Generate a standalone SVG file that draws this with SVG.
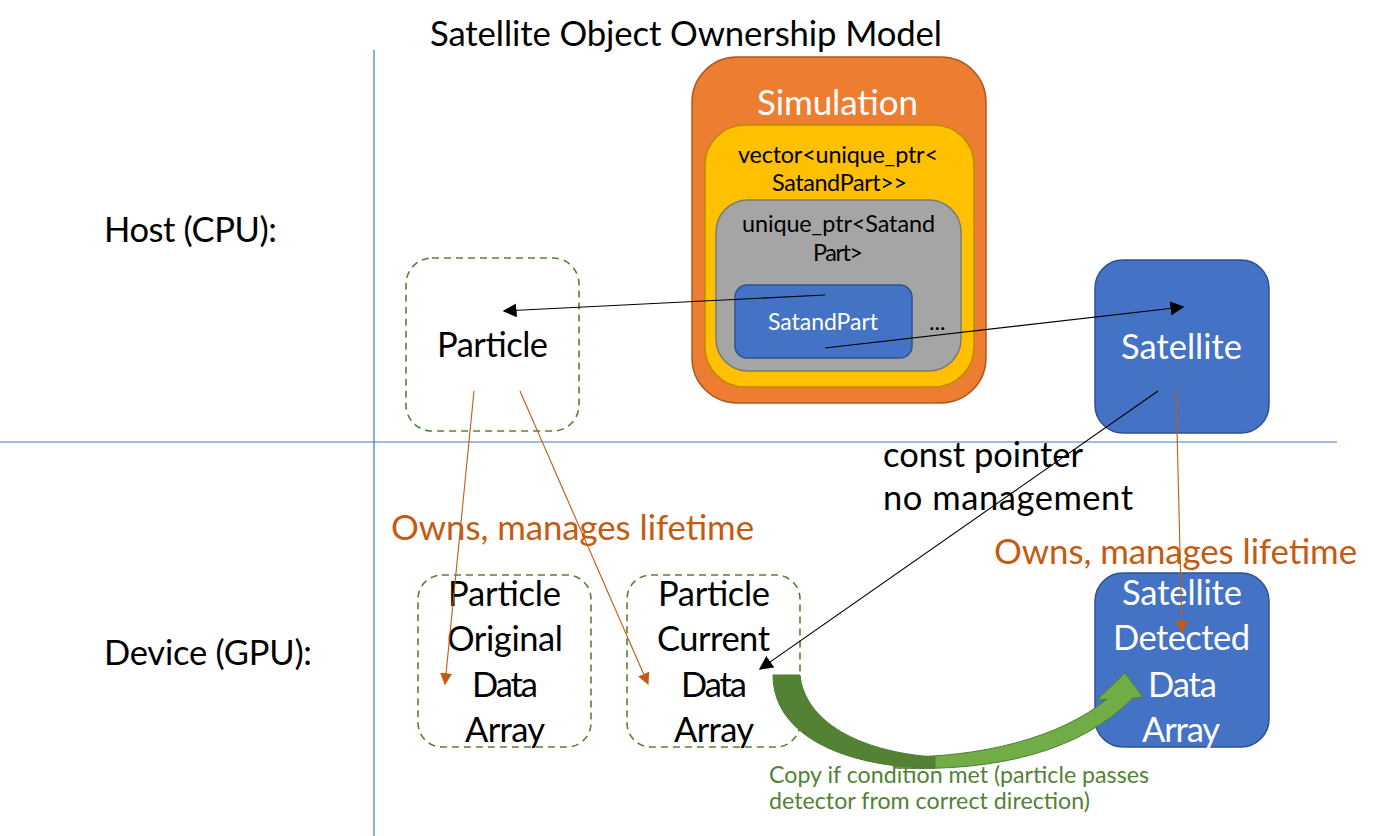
<svg xmlns="http://www.w3.org/2000/svg" width="1382" height="836" viewBox="0 0 1382 836">
<style>
text{font-family:Lato,"Open Sans","Liberation Sans",sans-serif}
.big{font-size:34.5px;fill:#000}
.mid{font-size:23.4px;fill:#000}
.w{fill:#fff}
.own{font-size:34.8px;fill:#C55A11}
.cp{font-size:23.2px;fill:#538135}
.dash{fill:none;stroke:#548235;stroke-width:1.6;stroke-dasharray:7 5}
.blue{fill:#4472C4;stroke:#2F528F;stroke-width:1.5}
.axis{stroke:#4472C4;stroke-width:1.2}
.blk{stroke:#000;stroke-width:1.1;fill:none}
.org{stroke:#C55A11;stroke-width:1.1;fill:none}
</style>
<defs>
<marker id="ab" viewBox="0 0 10 10" refX="9" refY="5" markerWidth="14" markerHeight="14" markerUnits="userSpaceOnUse" orient="auto"><path d="M0,0L10,5L0,10Z" fill="#000"/></marker>
<marker id="ao" viewBox="0 0 10 10" refX="9" refY="5" markerWidth="12" markerHeight="12" markerUnits="userSpaceOnUse" orient="auto"><path d="M0,0L10,5L0,10Z" fill="#C55A11"/></marker>
</defs>
<rect width="1382" height="836" fill="#fff"/>
<g id="axes">
<line class="axis" x1="374" y1="50" x2="374" y2="836"/>
<line class="axis" x1="0" y1="442" x2="1337" y2="442"/>
</g>
<g id="labels">
<text x="430" y="46" textLength="512" style="font-size:34.7px">Satellite Object Ownership Model</text>
<text class="big" x="104" y="242" textLength="173">Host (CPU):</text>
<text class="big" x="104" y="665" textLength="208">Device (GPU):</text>
<text class="big" x="883" y="467" textLength="200">const pointer</text>
<text class="big" x="883" y="510" textLength="250">no management</text>
<text class="own" x="391" y="540" textLength="363">Owns, manages lifetime</text>
<text class="own" x="994" y="564" textLength="363">Owns, manages lifetime</text>
<text class="cp" x="769" y="783" textLength="380">Copy if condition met (particle passes</text>
<text class="cp" x="769" y="809" textLength="321">detector from correct direction)</text>
</g>
<g id="simulation">
<rect x="692" y="57" width="294" height="346" rx="45" fill="#ED7D31" stroke="#AE5A21" stroke-width="1.5"/>
<text class="w" x="757" y="115" textLength="161" style="font-size:35px">Simulation</text>
</g>
<g id="vector">
<rect x="705" y="125" width="269" height="262" rx="40" fill="#FFC000" stroke="#BC8C00" stroke-width="1.5"/>
<text class="mid" x="738" y="163" textLength="200">vector&lt;unique_ptr&lt;</text>
<text class="mid" x="772" y="191" textLength="135">SatandPart&gt;&gt;</text>
</g>
<g id="unique_ptr">
<rect x="716" y="200" width="245" height="171" rx="32" fill="#A5A5A5" stroke="#7B7B7B" stroke-width="1.5"/>
<text class="mid" x="742" y="232" textLength="193">unique_ptr&lt;Satand</text>
<text class="mid" x="813" y="261" textLength="50">Part&gt;</text>
<text class="mid" x="929" y="330">...</text>
</g>
<g id="satandpart">
<rect class="blue" x="735" y="285" width="177" height="73" rx="12"/>
<text class="w" x="768" y="330" textLength="110" style="font-size:23px">SatandPart</text>
</g>
<g id="particle">
<rect class="dash" x="406" y="258" width="173" height="173" rx="26"/>
<text class="big" x="437" y="357" textLength="111">Particle</text>
</g>
<g id="satellite">
<rect class="blue" x="1095" y="260" width="174" height="173" rx="28"/>
<text class="big w" x="1121" y="359" textLength="121">Satellite</text>
</g>
<g id="original">
<rect class="dash" x="418" y="575" width="173" height="172" rx="24"/>
<text class="big" x="448" y="606" textLength="113">Particle</text>
<text class="big" x="447" y="651" textLength="116">Original</text>
<text class="big" x="472" y="697" textLength="66">Data</text>
<text class="big" x="465" y="742" textLength="80">Array</text>
</g>
<g id="current">
<rect class="dash" x="627" y="575" width="173" height="172" rx="24"/>
<text class="big" x="658" y="606" textLength="112">Particle</text>
<text class="big" x="657" y="651" textLength="113">Current</text>
<text class="big" x="681" y="697" textLength="66">Data</text>
<text class="big" x="674" y="742" textLength="80">Array</text>
</g>
<g id="detected">
<rect class="blue" x="1095" y="573" width="174" height="174" rx="28"/>
<text class="big w" x="1122" y="605" textLength="120">Satellite</text>
<text class="big w" x="1113" y="650" textLength="137">Detected</text>
<text class="big w" x="1148" y="697" textLength="69">Data</text>
<text class="big w" x="1142" y="742" textLength="78">Array</text>
</g>
<g id="connectors">
<line class="blk" x1="825" y1="295" x2="504" y2="311" marker-end="url(#ab)"/>
<line class="blk" x1="825" y1="348" x2="1183" y2="307" marker-end="url(#ab)"/>
<line class="blk" x1="1158" y1="391" x2="760" y2="669" marker-end="url(#ab)"/>
<line class="org" x1="474" y1="391" x2="445" y2="684" marker-end="url(#ao)"/>
<line class="org" x1="520" y1="391" x2="648" y2="684" marker-end="url(#ao)"/>
<line class="org" x1="1176" y1="390" x2="1182" y2="632" marker-end="url(#ao)"/>
<g id="copy-arrow" stroke="#507E32" stroke-width="1">
<path d="M895,768 C995,772 1080,752 1133,698 L1143,697 L1125,673 L1097,700 L1107,699 C1060,738 980,758 895,757 Z" fill="#70AD47"/>
<path d="M773,675 L800,675 C805,722 860,752 935,757 L935,768 C850,768 773,738 773,675 Z" fill="#548235"/>
</g>
</g>
</svg>
